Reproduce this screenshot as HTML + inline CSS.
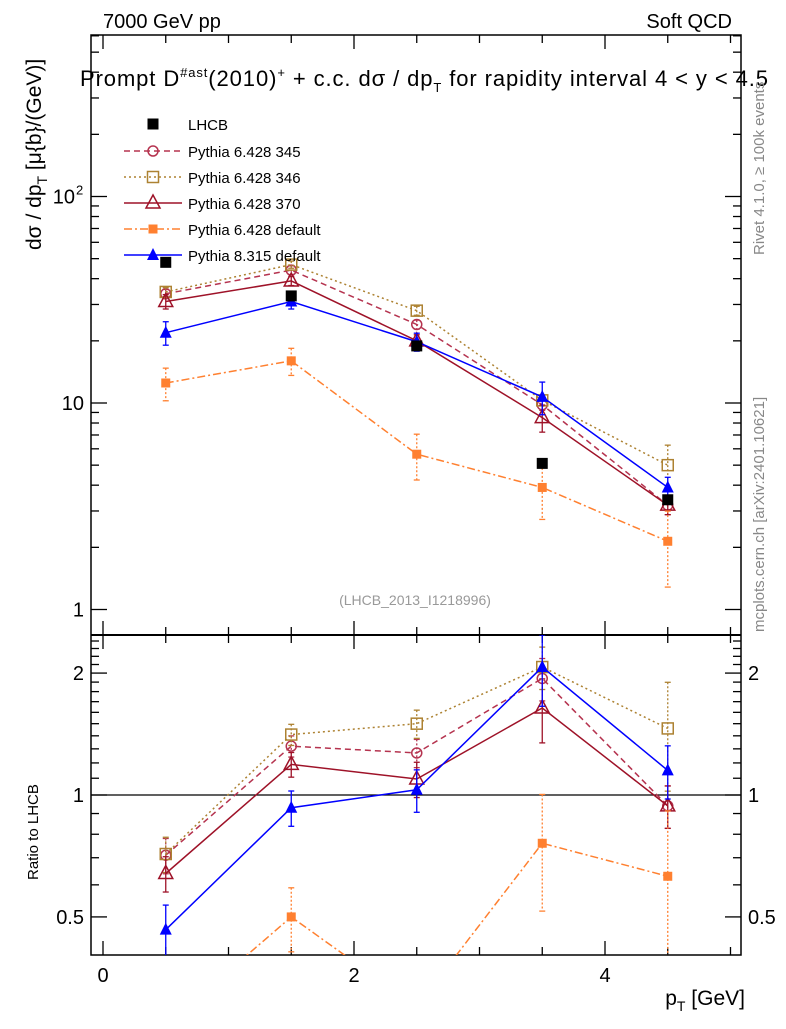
<!DOCTYPE html>
<html><head><meta charset="utf-8"><style>
body{margin:0;background:#fff;font-family:"Liberation Sans",sans-serif}
svg text{font-family:"Liberation Sans",sans-serif}
</style></head><body>
<svg id="chart" width="786" height="1024" xmlns="http://www.w3.org/2000/svg">
<defs>
<clipPath id="cm"><rect x="91" y="35" width="650" height="600"/></clipPath>
<clipPath id="cr"><rect x="91" y="635" width="650" height="320"/></clipPath>
</defs>
<text x="103" y="28" font-size="20">7000 GeV pp</text>
<text x="732" y="28" font-size="20" text-anchor="end">Soft QCD</text>
<text x="80" y="86" font-size="22" textLength="688" lengthAdjust="spacing">Prompt D<tspan font-size="13" dy="-9">#ast</tspan><tspan dy="9">(2010)</tspan><tspan font-size="13" dy="-9">+</tspan><tspan dy="9"> + c.c.  dσ / dp</tspan><tspan font-size="13" dy="6">T</tspan><tspan dy="-6"> for rapidity interval 4 &lt; y &lt; 4.5</tspan></text>
<text transform="translate(764,255) rotate(-90)" font-size="15" fill="#888">Rivet 4.1.0, ≥ 100k events</text>
<text transform="translate(764,632) rotate(-90)" font-size="15" fill="#888">mcplots.cern.ch [arXiv:2401.10621]</text>
<text x="415" y="605" font-size="14" fill="#999" text-anchor="middle">(LHCB_2013_I1218996)</text>
<text transform="translate(41,250) rotate(-90)" font-size="21">dσ / dp<tspan font-size="14" dy="6">T</tspan><tspan dy="-6"> [μ{b}/(GeV)]</tspan></text>
<text transform="translate(38,880) rotate(-90)" font-size="15">Ratio to LHCB</text>
<text x="745" y="1005" font-size="21" text-anchor="end">p<tspan font-size="14" dy="6">T</tspan><tspan dy="-6"> [GeV]</tspan></text>
<g id="axes"></g>
<g id="marks"></g>
<g id="legend"></g>
</svg>
<script>
const xs=[0.5,1.5,2.5,3.5,4.5];
const lhcb=[48,33,18.9,5.1,3.4];
const py345=[33.8,44,24,9.8,3.2];
const py346=[34.5,46.8,28,10.3,5.0];
const py370=[31,39,20,8.5,3.2];
const py6def=[12.5,16,5.65,3.9,2.14];
const py8=[21.9,31,19.8,10.7,3.9];
const err345=[0.05,0.05,0.05,0.06,0.1];
const err346=[0.05,0.04,0.05,0.06,0.25];
const err370=[0.08,0.05,0.07,0.15,0.1];
const err6def=[0.18,0.15,0.25,0.3,0.4];
const err8=[0.13,0.08,0.1,0.18,0.12];
const r345=[0.71,1.32,1.27,1.94,0.94];
const r346=[0.715,1.41,1.50,2.07,1.46];
const r370=[0.64,1.19,1.095,1.64,0.94];
const r6def=[0.27,0.50,0.30,0.76,0.63];
const r8=[0.465,0.93,1.03,2.07,1.15];
const rerr345=[0.1,0.06,0.08,0.12,0.12];
const rerr346=[0.1,0.06,0.08,0.12,0.3];
const rerr370=[0.1,0.07,0.1,0.18,0.12];
const rerr6def=[0.2,0.18,0.3,0.32,0.45];
const rerr8=[0.15,0.1,0.12,0.2,0.15];
const xTicks=[0,2,4];
const yTicks=[1,10,100];
const yTickLabels=["1","10","10"];
const rTicks=[0.5,1,2];
const rTickLabels=["0.5","1","2"];

const NS="http://www.w3.org/2000/svg";
const X=v=>103+v*125.5;
const Y=v=>403-(Math.log10(v)-1)*206.5;
const R=v=>795-Math.log10(v)*405;
function el(t,a,p){const e=document.createElementNS(NS,t);for(const k in a)e.setAttribute(k,a[k]);(p||document.getElementById('marks')).appendChild(e);return e;}
const ax=document.getElementById('axes');
let f=el('rect',{x:91,y:35,width:650,height:920,fill:'none',stroke:'#000','stroke-width':1.5},ax);

let sep=el('line',{x1:91,x2:741,y1:635,y2:635,stroke:'#000','stroke-width':2},ax);

let one=el('line',{x1:91,x2:741,y1:R(1),y2:R(1),stroke:'#000','stroke-width':1.2},ax);

for(let v=0;v<=5;v+=0.5){const big=Math.abs(v%2)<1e-9;const L=big?14:8;
 for(const [yb,d] of [[35,1],[635,-1],[635,1],[955,-1]]){el('line',{x1:X(v),x2:X(v),y1:yb,y2:yb+d*L,stroke:'#000','stroke-width':1.3},ax);}}
xTicks.forEach((v,i)=>{const t=el('text',{x:X(v),y:982,'font-size':20,'text-anchor':'middle'},ax);t.textContent=v;
});
for(let d=0;d<3;d++)for(let m=1;m<10;m++){const v=m*Math.pow(10,d);const y=Y(v);if(y<35||y>635)continue;const L=m==1?16:8;
 el('line',{x1:91,x2:91+L,y1:y,y2:y,stroke:'#000','stroke-width':1.3},ax);el('line',{x1:741,x2:741-L,y1:y,y2:y,stroke:'#000','stroke-width':1.3},ax);}
yTicks.forEach((v,i)=>{const t=el('text',{x:v==100?75:84,y:Y(v)+7,'font-size':20,'text-anchor':'end'},ax);t.textContent=yTickLabels[i];

if(v==100){const s=el('text',{x:76,y:Y(v)-2,'font-size':13},ax);s.textContent='2';}});
for(let v=0.4;v<=2.5;v+=0.1){const y=R(v);if(y<636||y>954)continue;const maj=[0.5,1,2].some(q=>Math.abs(q-v)<1e-6);const L=maj?16:8;
 el('line',{x1:91,x2:91+L,y1:y,y2:y,stroke:'#000','stroke-width':1.3},ax);el('line',{x1:741,x2:741-L,y1:y,y2:y,stroke:'#000','stroke-width':1.3},ax);}
rTicks.forEach((v,i)=>{for(const [x,a] of [[84,'end'],[748,'start']]){const t=el('text',{x:x,y:R(v)+7,'font-size':20,'text-anchor':a},ax);t.textContent=rTickLabels[i];
}});

function marker(g,type,x,y,c){
 if(type=='circle')el('circle',{cx:x,cy:y,r:5,fill:'none',stroke:c,'stroke-width':1.5},g);
 else if(type=='osq')el('rect',{x:x-5.5,y:y-5.5,width:11,height:11,fill:'none',stroke:c,'stroke-width':1.5},g);
 else if(type=='otri')el('polygon',{points:`${x},${y-8} ${x-7},${y+5} ${x+7},${y+5}`,fill:'none',stroke:c,'stroke-width':1.5},g);
 else if(type=='sq')el('rect',{x:x-4.5,y:y-4.5,width:9,height:9,fill:c},g);
 else if(type=='bsq')el('rect',{x:x-5.5,y:y-5.5,width:11,height:11,fill:c},g);
 else if(type=='tri')el('polygon',{points:`${x},${y-7} ${x-6},${y+5} ${x+6},${y+5}`,fill:c},g);
}
const series=[
 {n:'pythia-6428-345',lab:'Pythia 6.428 345',c:'#b5334f',dash:'6,4',m:'circle',v:py345,e:err345,r:r345,re:rerr345},
 {n:'pythia-6428-346',lab:'Pythia 6.428 346',c:'#ad8232',dash:'2,3',m:'osq',v:py346,e:err346,r:r346,re:rerr346},
 {n:'pythia-6428-370',lab:'Pythia 6.428 370',c:'#9e1228',dash:'',m:'otri',v:py370,e:err370,r:r370,re:rerr370},
 {n:'pythia-6428-default',lab:'Pythia 6.428 default',c:'#ff8030',dash:'8,3,2,3',m:'sq',v:py6def,e:err6def,r:r6def,re:rerr6def},
 {n:'pythia-8315-default',lab:'Pythia 8.315 default',c:'#0000ff',dash:'',m:'tri',v:py8,e:err8,r:r8,re:rerr8}];
const mk=document.getElementById('marks');
function draw(s,vals,errs,Yf,clip,name){
 const g=el('g',{'clip-path':`url(#${clip})`},mk);
 
 el('polyline',{points:xs.map((x,i)=>X(x)+','+Yf(vals[i])).join(' '),fill:'none',stroke:s.c,'stroke-width':1.5,'stroke-dasharray':s.dash},g);
 xs.forEach((x,i)=>{const v=vals[i],e=errs[i];el('line',{x1:X(x),x2:X(x),y1:Yf(v*(1+e)),y2:Yf(v*(1-e)),stroke:s.c,'stroke-width':1.3,'stroke-dasharray':s.dash?'2,2':''},g);
  el('line',{x1:X(x)-3,x2:X(x)+3,y1:Yf(v*(1+e)),y2:Yf(v*(1+e)),stroke:s.c,'stroke-width':1.3},g);
  el('line',{x1:X(x)-3,x2:X(x)+3,y1:Yf(v*(1-e)),y2:Yf(v*(1-e)),stroke:s.c,'stroke-width':1.3},g);
  marker(g,s.m,X(x),Yf(v),s.c);});
}
series.forEach(s=>{draw(s,s.v,s.e,Y,'cm',s.n+'-series');draw(s,s.r,s.re,R,'cr',s.n+'-ratio');});
const dg=el('g',{},mk);
xs.forEach((x,i)=>marker(dg,'bsq',X(x),Y(lhcb[i]),'#000'));
const lg=document.getElementById('legend');
const le=el('g',{},lg);
marker(le,'bsq',153,124,'#000');let t=el('text',{x:188,y:130,'font-size':15},le);t.textContent='LHCB';
series.forEach((s,i)=>{const y=151+i*26;const g=el('g',{},lg);
 
 el('line',{x1:124,x2:182,y1:y,y2:y,stroke:s.c,'stroke-width':1.5,'stroke-dasharray':s.dash},g);
 marker(g,s.m,153,y,s.c);const tt=el('text',{x:188,y:y+6,'font-size':15},g);tt.textContent=s.lab;});
</script>
</body></html>
